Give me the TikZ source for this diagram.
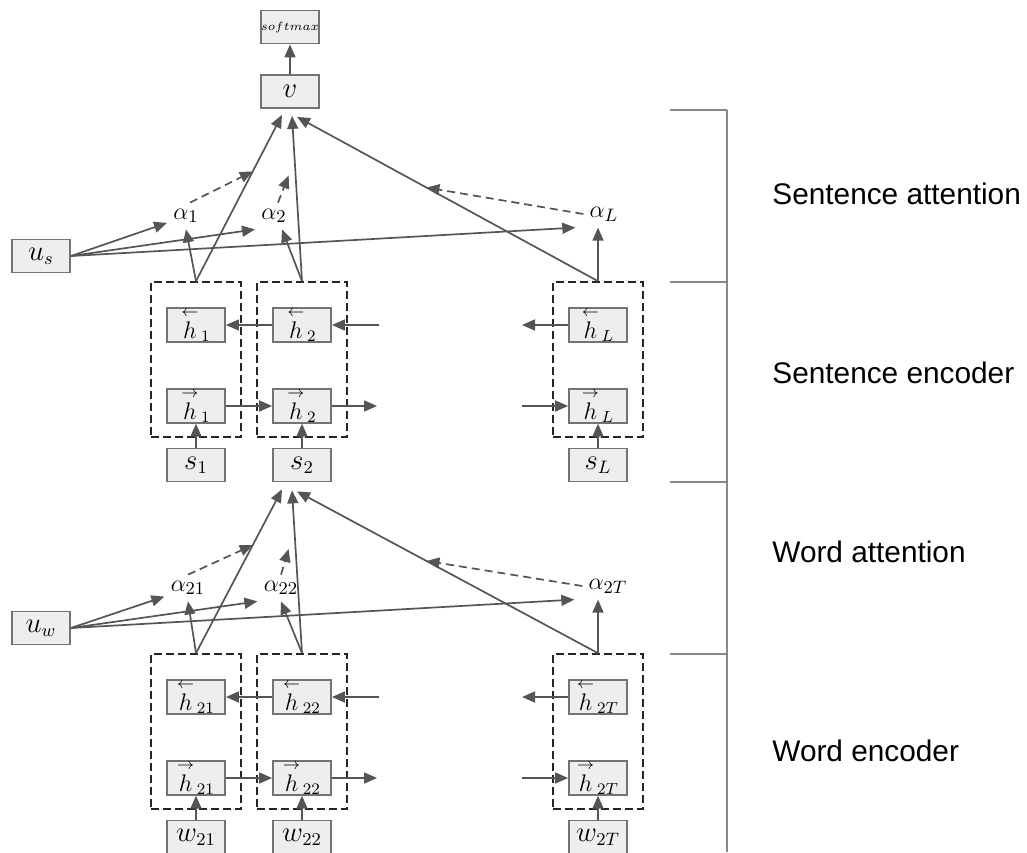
\documentclass[tikz,border=0pt]{standalone}
\usepackage{amsmath,amssymb}
\usepackage{fontspec}
\newfontfamily\labelfont{Liberation Sans}
\usepackage{tikz}
\usetikzlibrary{arrows.meta,calc}
\definecolor{arrgray}{HTML}{555555}
\definecolor{boxgray}{HTML}{737373}
\definecolor{boxfill}{HTML}{EEEEEE}
\definecolor{brkgray}{HTML}{888888}

\begin{document}
\begin{tikzpicture}[x=0.5pt,y=-0.5pt,
    cell/.style={draw=boxgray,fill=boxfill,line width=0.9pt,minimum width=29pt,
      minimum height=16.5pt,inner sep=0pt,font=\fontsize{13.5}{15}\selectfont},
    hcell/.style={cell,font=\fontsize{12}{14}\selectfont},
    grp/.style={draw=black!85,dash pattern=on 4pt off 2pt,line width=0.85pt,
      minimum width=45pt,minimum height=77.5pt,inner sep=0pt},
    wt/.style={inner sep=3pt,font=\fontsize{13}{15}\selectfont},
    arr/.style={draw=arrgray,line width=0.85pt,-{Triangle[length=6.5pt,width=5.5pt]}},
    wtarr/.style={arr,dash pattern=on 4pt off 2.5pt},
    brk/.style={draw=brkgray,line width=0.8pt},
    lbl/.style={anchor=west,inner sep=0pt,font=\labelfont\fontsize{14.9}{18}\selectfont}]
  \useasboundingbox (0,0) rectangle (1027,852);
  % document vector
  \node[cell,font=\fontsize{6}{7}\selectfont] (sm) at (290,27) {$softmax$};
  \node[cell] (v) at (290,91.5) {$v$};
  \draw[arr] (v) -- (sm);
  % sentence level
  \begin{scope}
    \foreach \n/\x/\k in {1/196/1,2/302/2,3/598/L} {
      \node[grp] (bs\n) at (\x,359.5) {};
      \node[hcell] (hbs\n) at (\x,325) {$\overset{\leftarrow}{h}_{\,\k}$};
      \node[hcell] (hfs\n) at (\x,406) {$\overset{\rightarrow}{h}_{\,\k}$};
      \node[cell] (s\n) at (\x,465) {$s_{\k}$};
      \draw[arr] (s\n) -- (hfs\n);
    }
    \coordinate (bsR) at (379,325);
    \coordinate (bsM) at (522,325);
    \coordinate (fsR) at (377,406);
    \coordinate (fsM) at (522,406);
    \draw[arr] (hbs2) -- (hbs1);
    \draw[arr] (bsR) -- (hbs2);
    \draw[arr] (hbs3) -- (bsM);
    \draw[arr] (hfs1) -- (hfs2);
    \draw[arr] (hfs2) -- (fsR);
    \draw[arr] (fsM) -- (hfs3);
    % sentence attention
    \node[cell] (us) at (41,256) {$u_s$};
    \node[wt] (as1) at (186,216) {$\alpha_1$};
    \node[wt] (as2) at (274,216) {$\alpha_2$};
    \node[wt] (as3) at (604,214) {$\alpha_L$};
    \coordinate (vs1) at ([shift={(-8,6)}]v.south);
    \coordinate (vs2) at ([shift={(2,7)}]v.south);
    \coordinate (vs3) at ([shift={(7,8)}]v.south);
    \draw[arr] (bs1.north) -- (as1.south);
    \draw[arr] (bs1.north) -- (vs1);
    \draw[arr] (bs2.north) -- ([xshift=4pt]as2.south);
    \draw[arr] (bs2.north) -- (vs2);
    \draw[arr] (bs3.north) -- (bs3.north |- as3.south);
    \draw[arr] (bs3.north) -- (vs3);
    \draw[arr] (us.east) -- (as1.200);
    \draw[arr] (us.east) -- (as2.south west);
    \draw[arr] (us.east) -- ([xshift=-4pt]as3.south west);
    \draw[wtarr] ([xshift=2pt]as1.north) -- ($(bs1.north)!0.66!(vs1)$);
    \draw[wtarr] ([xshift=2pt]as2.north) -- ($(bs2.north)!0.64!(vs2)+(-7,0)$);
    \draw[wtarr] (as3.west) -- ($(bs3.north)!0.57!(vs3)$);
  \end{scope}
  % word level
  \begin{scope}[yshift=-186pt]
    \foreach \n/\x/\k in {1/196/21,2/302/22,3/598/2T} {
      \node[grp] (bw\n) at (\x,359.5) {};
      \node[hcell] (hbw\n) at (\x,325) {$\overset{\leftarrow}{h}_{\,\k}$};
      \node[hcell] (hfw\n) at (\x,406) {$\overset{\rightarrow}{h}_{\,\k}$};
      \node[cell] (w\n) at (\x,465) {$w_{\k}$};
      \draw[arr] (w\n) -- (hfw\n);
    }
    \coordinate (bwR) at (379,325);
    \coordinate (bwM) at (522,325);
    \coordinate (fwR) at (377,406);
    \coordinate (fwM) at (522,406);
    \draw[arr] (hbw2) -- (hbw1);
    \draw[arr] (bwR) -- (hbw2);
    \draw[arr] (hbw3) -- (bwM);
    \draw[arr] (hfw1) -- (hfw2);
    \draw[arr] (hfw2) -- (fwR);
    \draw[arr] (fwM) -- (hfw3);
    % word attention
    \node[cell] (uw) at (41,256) {$u_w$};
    \node[wt] (aw1) at (188,216) {$\alpha_{21}$};
    \node[wt] (aw2) at (281,216) {$\alpha_{22}$};
    \node[wt] (aw3) at (608,214) {$\alpha_{2T}$};
    \coordinate (sw1) at ([shift={(-20,7)}]s2.south);
    \coordinate (sw2) at ([shift={(-10,8)}]s2.south);
    \coordinate (sw3) at ([shift={(-5,9)}]s2.south);
    \draw[arr] (bw1.north) -- (aw1.south);
    \draw[arr] (bw1.north) -- (sw1);
    \draw[arr] (bw2.north) -- (aw2.south);
    \draw[arr] (bw2.north) -- (sw2);
    \draw[arr] (bw3.north) -- (bw3.north |- aw3.south);
    \draw[arr] (bw3.north) -- (sw3);
    \draw[arr] (uw.east) -- (aw1.200);
    \draw[arr] (uw.east) -- (aw2.south west);
    \draw[arr] (uw.east) -- ([xshift=-4pt]aw3.south west);
    \draw[wtarr] (aw1.north) -- ($(bw1.north)!0.66!(sw1)$);
    \draw[wtarr] (aw2.north) -- ($(bw2.north)!0.64!(sw2)+(-7,0)$);
    \draw[wtarr] (aw3.west) -- ($(bw3.north)!0.57!(sw3)$);
  \end{scope}
  % stage brackets
  \draw[brk] (727,110) -- (727,852);
  \foreach \y in {110,282,482,654}
    \draw[brk] (670,\y) -- (727,\y);
  \node[lbl] (lsa) at (772,194) {Sentence attention};
  \node[lbl] (lse) at (772,373) {Sentence encoder};
  \node[lbl] (lwa) at (772,552) {Word attention};
  \node[lbl] (lwe) at (772,751) {Word encoder};
\end{tikzpicture}
\end{document}
